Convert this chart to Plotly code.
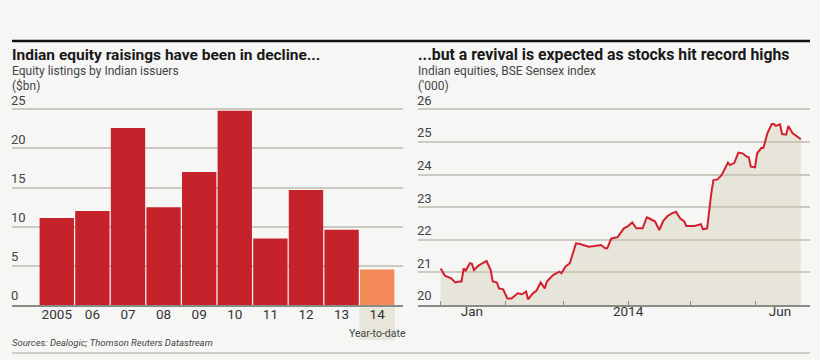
import plotly.graph_objects as go

# ---------------- data ----------------
years = ["2005", "06", "07", "08", "09", "10", "11", "12", "13", "14"]
listings_bn = [11.1, 12.0, 22.6, 12.5, 17.0, 24.8, 8.5, 14.7, 9.6, 4.55]
ytd_year = "14"
ytd_note = "Year-to-date"

sensex_dates = [
    "2014-01-01", "2014-01-03", "2014-01-06", "2014-01-08", "2014-01-10", "2014-01-11",
    "2014-01-12", "2014-01-13", "2014-01-15", "2014-01-16", "2014-01-17", "2014-01-19",
    "2014-01-21", "2014-01-23", "2014-01-25", "2014-01-26", "2014-01-28", "2014-01-29",
    "2014-01-31", "2014-02-02", "2014-02-04", "2014-02-07", "2014-02-09", "2014-02-11",
    "2014-02-12", "2014-02-14", "2014-02-16", "2014-02-18", "2014-02-20", "2014-02-21",
    "2014-02-24", "2014-02-27", "2014-02-28", "2014-03-02", "2014-03-04", "2014-03-07",
    "2014-03-09", "2014-03-11", "2014-03-13", "2014-03-16", "2014-03-19", "2014-03-21",
    "2014-03-22", "2014-03-24", "2014-03-27", "2014-03-30", "2014-04-01", "2014-04-03",
    "2014-04-05", "2014-04-08", "2014-04-10", "2014-04-11", "2014-04-14", "2014-04-16",
    "2014-04-18", "2014-04-20", "2014-04-22", "2014-04-24", "2014-04-26", "2014-04-28",
    "2014-04-29", "2014-05-03", "2014-05-06", "2014-05-07", "2014-05-09", "2014-05-11",
    "2014-05-12", "2014-05-14", "2014-05-16", "2014-05-19", "2014-05-20", "2014-05-22",
    "2014-05-24", "2014-05-26", "2014-05-28", "2014-05-29", "2014-05-30", "2014-06-01",
    "2014-06-02", "2014-06-04", "2014-06-05", "2014-06-07", "2014-06-09", "2014-06-10",
    "2014-06-11", "2014-06-13", "2014-06-14", "2014-06-16", "2014-06-17", "2014-06-19",
    "2014-06-21", "2014-06-23",
]
sensex_000 = [
    21.12, 20.90, 20.82, 20.69, 20.72, 20.72,
    21.12, 21.05, 21.28, 21.26, 21.07, 21.20,
    21.28, 21.35, 21.07, 20.72, 20.69, 20.51,
    20.48, 20.20, 20.20, 20.36, 20.33, 20.41,
    20.17, 20.34, 20.44, 20.69, 20.51, 20.72,
    20.92, 21.02, 20.97, 21.18, 21.28, 21.89,
    21.87, 21.82, 21.79, 21.81, 21.84, 21.74,
    21.74, 22.04, 22.08, 22.35, 22.42, 22.53,
    22.35, 22.35, 22.69, 22.66, 22.56, 22.30,
    22.59, 22.73, 22.81, 22.86, 22.66, 22.56,
    22.42, 22.42, 22.48, 22.32, 22.35, 23.43,
    23.83, 23.85, 23.99, 24.37, 24.29, 24.35,
    24.67, 24.65, 24.55, 24.53, 24.24, 24.22,
    24.65, 24.81, 24.81, 25.27, 25.55, 25.55,
    25.49, 25.54, 25.24, 25.22, 25.49, 25.27,
    25.16, 25.08,
]

left_ticks = [0, 5, 10, 15, 20, 25]
right_ticks = [20, 21, 22, 23, 24, 25, 26]
month_ticks = ["2014-01-01", "2014-02-01", "2014-03-01", "2014-04-01", "2014-05-01", "2014-06-01"]
date_label_vals = ["2014-01-16", "2014-04-01", "2014-06-13"]
date_label_text = ["Jan", "2014", "Jun"]

# ---------------- style ----------------
W, H = 820, 360
BG = "#f6f6f5"
RED = "#c5222b"
ORANGE = "#f38a58"
GRID = "#cdc9c0"
BASE = "#8a8a86"
TXT = "#333333"
FONT = "Roboto, Liberation Sans, sans-serif"

def px_x(p):
    return p / W

def px_y(p):
    return (H - p) / H

# plot area: baseline at y=305, top gridline at y=109.3, domain extended upward
TOP = 88
ydom = [px_y(305), px_y(TOP)]
ext = (305 - TOP) / (305 - 109.3)
xdom_left = [px_x(12), px_x(403)]
xrange_left = [-1.258, 9.725]

fig = go.Figure()

bar_colors = [ORANGE if y == ytd_year else RED for y in years]
fig.add_trace(go.Bar(
    x=years, y=listings_bn, marker=dict(color=bar_colors, line=dict(width=0)),
    xaxis="x", yaxis="y", hoverinfo="skip", showlegend=False,
))

fig.add_trace(go.Scatter(
    x=sensex_dates, y=sensex_000, mode="lines",
    line=dict(color="#d3202e", width=2),
    fill="tozeroy", fillcolor="rgba(208,199,174,0.38)",
    xaxis="x2", yaxis="y2", hoverinfo="skip", showlegend=False,
))
fig.add_trace(go.Scatter(
    x=sensex_dates, y=sensex_000, mode="lines", line=dict(width=0), opacity=0,
    xaxis="x3", yaxis="y2", hoverinfo="skip", showlegend=False,
))

tickfont = dict(family=FONT, size=13.5, color=TXT)
ytickfont = dict(family=FONT, size=13, color="#444444")

year_text = [
    y if y != ytd_year else
    y + "<br><span style='font-size:10.5px;color:#444444'>" + ytd_note + "</span>"
    for y in years
]

fig.update_layout(
    width=W, height=H,
    margin=dict(l=0, r=0, t=0, b=0),
    paper_bgcolor=BG, plot_bgcolor=BG,
    bargap=0.035,
    xaxis=dict(
        domain=xdom_left, type="category",
        range=xrange_left, showgrid=False, ticks="",
        tickvals=years, ticktext=year_text, tickangle=0, automargin=False,
        showline=True, linecolor=BASE, linewidth=1.5,
        tickfont=tickfont, anchor="y", fixedrange=True,
        ticklabelstandoff=-4,
    ),
    yaxis=dict(
        domain=ydom, range=[0, 25 * ext], tickvals=left_ticks,
        ticklabelposition="inside top", showgrid=True, gridcolor=GRID, gridwidth=1.5,
        zeroline=False, showline=False, ticks="", automargin=False,
        tickfont=ytickfont, anchor="x", fixedrange=True,
        ticklabelstandoff=-4,
    ),
    xaxis2=dict(
        domain=[px_x(418), px_x(810)], type="date",
        range=["2013-12-21 02:00", "2014-06-27 10:00"],
        tickvals=month_ticks, showticklabels=False, automargin=False,
        ticks="inside", ticklen=4, tickcolor=BASE, tickwidth=1,
        showgrid=False, showline=True, linecolor=BASE, linewidth=1.5,
        anchor="y2", fixedrange=True,
    ),
    xaxis3=dict(
        domain=[px_x(418), px_x(810)], type="date", overlaying="x2",
        range=["2013-12-21 02:00", "2014-06-27 10:00"],
        tickvals=date_label_vals, ticktext=date_label_text, ticks="",
        tickangle=0, automargin=False,
        showgrid=False, showline=False, anchor="y2", side="bottom",
        tickfont=tickfont, fixedrange=True, ticklabelstandoff=-4,
    ),
    yaxis2=dict(
        domain=ydom, range=[20, 20 + 6 * ext], tickvals=right_ticks,
        ticklabelposition="inside top", showgrid=True, gridcolor=GRID, gridwidth=1.5,
        zeroline=False, showline=False, ticks="", automargin=False,
        tickfont=ytickfont, anchor="x2", fixedrange=True,
        ticklabelstandoff=-4,
    ),
)

ytd_idx = years.index(ytd_year)

def cat_to_paper(v):
    f = (v - xrange_left[0]) / (xrange_left[1] - xrange_left[0])
    return xdom_left[0] + f * (xdom_left[1] - xdom_left[0])

# shaded column behind the year-to-date label
fig.add_shape(type="rect", xref="paper", yref="paper",
              x0=cat_to_paper(ytd_idx - 0.5), x1=cat_to_paper(ytd_idx + 0.5),
              y0=px_y(340), y1=px_y(305), fillcolor="#e8e5da", line=dict(width=0),
              layer="below")

# top black rule and bottom grey rule
fig.add_shape(type="line", xref="paper", yref="paper", x0=px_x(12), x1=px_x(810),
              y0=px_y(41), y1=px_y(41), line=dict(color="#111111", width=2.5))
fig.add_shape(type="line", xref="paper", yref="paper", x0=px_x(12), x1=px_x(810),
              y0=px_y(353), y1=px_y(353), line=dict(color="#a9a49a", width=1))

def note(text, x, y, size, color=TXT, bold=False, italic=False, xanchor="left"):
    t = text
    if bold:
        t = "<b>" + t + "</b>"
    if italic:
        t = "<i>" + t + "</i>"
    fig.add_annotation(text=t, xref="paper", yref="paper", x=x, y=px_y(y),
                       xanchor=xanchor, yanchor="middle", showarrow=False,
                       font=dict(family=FONT, size=size, color=color))

note("Indian equity raisings have been in decline...", px_x(10), 54.5, 15.5, "#1a1a1a", bold=True)
note("Equity listings by Indian issuers", px_x(10), 71, 12, "#444444")
note("($bn)", px_x(10), 86, 12, "#444444")
note("...but a revival is expected as stocks hit record highs", px_x(416), 54.5, 15.8, "#1a1a1a", bold=True)
note("Indian equities, BSE Sensex index", px_x(416), 71, 12, "#444444")
note("('000)", px_x(416), 86, 12, "#444444")
note("Sources: Dealogic; Thomson Reuters Datastream", px_x(10), 342, 9.5, "#444444", italic=True)

fig.write_html("out.html", config={"displayModeBar": False},
               post_script="document.body.style.margin='0px';")
